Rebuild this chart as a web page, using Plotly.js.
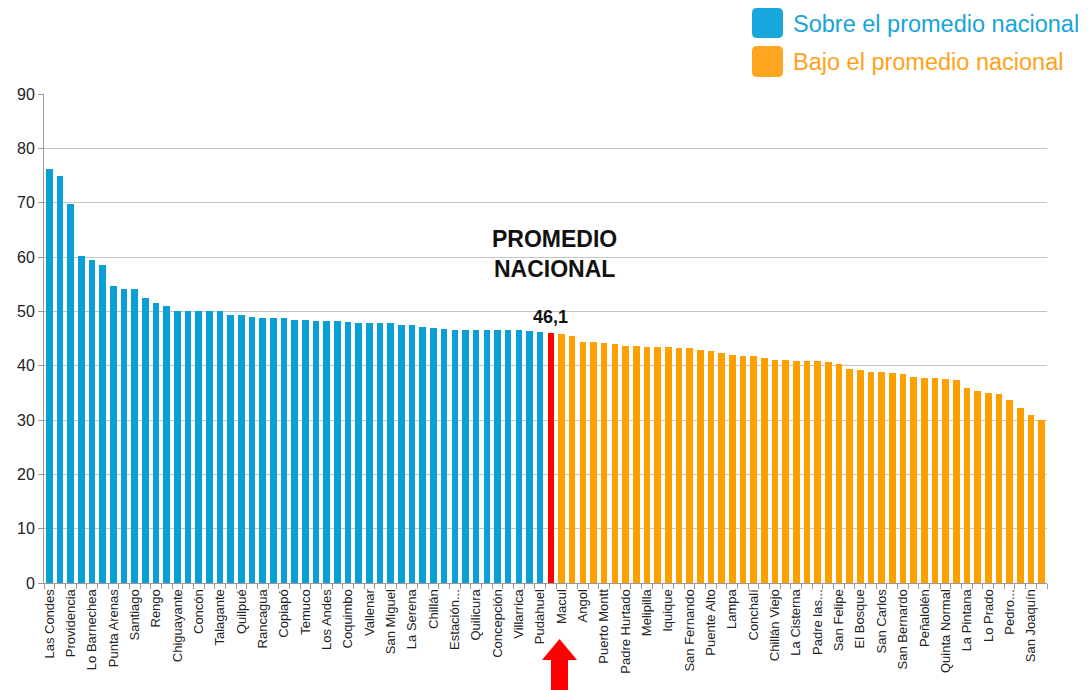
<!DOCTYPE html>
<html>
<head>
<meta charset="utf-8">
<script src="https://cdn.plot.ly/plotly-3.0.1.min.js"></script>
<style>
  body { margin: 0; background: #fff; }
  #chart { width: 1088px; height: 690px; }
</style>
</head>
<body>
<div id="chart"></div>
<script>
// one label for every second bar, like the original axis
var comunas = ['Las Condes', 'Providencia', 'Lo Barnechea', 'Punta Arenas', 'Santiago', 'Rengo',
  'Chiguayante', 'Concón', 'Talagante', 'Quilpué', 'Rancagua', 'Copiapó', 'Temuco', 'Los Andes',
  'Coquimbo', 'Vallenar', 'San Miguel', 'La Serena', 'Chillán', 'Estación...', 'Quilicura',
  'Concepción', 'Villarrica', 'Pudahuel', 'Macul', 'Angol', 'Puerto Montt', 'Padre Hurtado',
  'Melipilla', 'Iquique', 'San Fernando', 'Puente Alto', 'Lampa', 'Conchalí', 'Chillán Viejo',
  'La Cisterna', 'Padre las...', 'San Felipe', 'El Bosque', 'San Carlos', 'San Bernardo',
  'Peñalolén', 'Quinta Normal', 'La Pintana', 'Lo Prado', 'Pedro...', 'San Joaquín'];

var valores = [76.2, 74.9, 69.7, 60.2, 59.4, 58.6, 54.6, 54.1, 54.1, 52.5,
  51.5, 51.0, 50.1, 50.1, 50.1, 50.1, 50.1, 49.4, 49.4, 48.9,
  48.7, 48.7, 48.7, 48.4, 48.4, 48.2, 48.2, 48.2, 48.1, 47.9,
  47.9, 47.9, 47.9, 47.4, 47.4, 47.2, 46.9, 46.7, 46.5, 46.5,
  46.5, 46.5, 46.5, 46.5, 46.5, 46.3, 46.2, 46.1, 45.8, 45.5,
  44.4, 44.4, 44.1, 43.9, 43.7, 43.7, 43.5, 43.5, 43.5, 43.2,
  43.2, 42.9, 42.7, 42.3, 42.0, 41.8, 41.8, 41.5, 41.1, 41.0,
  40.8, 40.8, 40.8, 40.6, 40.3, 39.4, 39.2, 38.9, 38.9, 38.7,
  38.5, 38.0, 37.7, 37.7, 37.5, 37.3, 35.9, 35.4, 35.0, 34.7,
  33.7, 32.3, 30.9, 30.0];

var promedio = 46.1;
var idxPromedio = 47;

var azul = '#0aa0d6', naranjo = '#ffa000', rojo = '#ff0000';

var x = valores.map(function (v, i) { return i; });
var colores = valores.map(function (v, i) {
  if (i < idxPromedio) return azul;
  if (i === idxPromedio) return rojo;
  return naranjo;
});
var tickPos = comunas.map(function (c, i) { return i * 2; });
var bordes = [];
for (var b = 0; b <= valores.length; b++) bordes.push(b - 0.5);

// plot box in pixels, used for the decorations outside the axes
var L = 44, R = 1047, T = 94, B = 583;
function px(v) { return (v - L) / (R - L); }
function py(v) { return (B - v) / (B - T); }

function cajita(x0, y0, x1, y1, r) {
  var a = px(x0), c = px(x1), t = py(y0), d = py(y1);
  var rx = r / (R - L), ry = r / (B - T);
  return 'M' + (a + rx) + ',' + t + ' L' + (c - rx) + ',' + t +
    ' Q' + c + ',' + t + ' ' + c + ',' + (t - ry) +
    ' L' + c + ',' + (d + ry) + ' Q' + c + ',' + d + ' ' + (c - rx) + ',' + d +
    ' L' + (a + rx) + ',' + d + ' Q' + a + ',' + d + ' ' + a + ',' + (d + ry) +
    ' L' + a + ',' + (t - ry) + ' Q' + a + ',' + t + ' ' + (a + rx) + ',' + t + ' Z';
}

var flecha = 'M' + px(559.5) + ',' + py(639) +
  ' L' + px(577) + ',' + py(660) + ' L' + px(568) + ',' + py(660) +
  ' L' + px(568) + ',' + py(692) + ' L' + px(551) + ',' + py(692) +
  ' L' + px(551) + ',' + py(660) + ' L' + px(542) + ',' + py(660) + ' Z';

var data = [{
  type: 'bar',
  x: x,
  y: valores,
  width: 0.62,
  marker: { color: colores, line: { width: 0 } },
  hoverinfo: 'y'
}];

var layout = {
  width: 1088,
  height: 690,
  margin: { l: L, r: 1088 - R, t: T, b: 690 - B },
  paper_bgcolor: '#fff',
  plot_bgcolor: '#fff',
  showlegend: false,
  bargap: 0,
  font: { family: 'Liberation Sans, Arial, sans-serif', color: '#222' },
  xaxis: {
    range: [-0.5, valores.length - 0.5],
    tickmode: 'array',
    tickvals: tickPos,
    ticktext: comunas,
    tickangle: -90,
    ticks: '',
    tickfont: { size: 13, color: '#222' },
    showgrid: false,
    zeroline: false,
    showline: true,
    linecolor: '#999',
    linewidth: 1,
    minor: { tickmode: 'array', tickvals: bordes, ticks: 'outside', ticklen: 5, tickcolor: '#999', showgrid: false }
  },
  yaxis: {
    range: [0, 90],
    dtick: 10,
    ticks: 'outside',
    ticklen: 5,
    tickcolor: '#999',
    tickfont: { size: 16, color: '#222' },
    gridcolor: '#c4c4c4',
    gridwidth: 1,
    zeroline: false,
    showline: true,
    linecolor: '#999',
    linewidth: 1
  },
  annotations: [
    { xref: 'x', yref: 'paper', x: 47.3, y: py(254), yanchor: 'middle',
      text: '<b>PROMEDIO<br>NACIONAL</b>', showarrow: false,
      font: { size: 23, color: '#111' } },
    { xref: 'x', yref: 'y', x: idxPromedio, y: promedio, yshift: 4, yanchor: 'bottom',
      text: '<b>' + String(promedio).replace('.', ',') + '</b>', showarrow: false,
      font: { size: 18, color: '#111' } },
    { xref: 'paper', yref: 'paper', x: px(791), y: py(24), xanchor: 'left', yanchor: 'middle',
      text: 'Sobre el promedio nacional', showarrow: false, font: { size: 23.5, color: '#17a4d8' } },
    { xref: 'paper', yref: 'paper', x: px(791), y: py(62), xanchor: 'left', yanchor: 'middle',
      text: 'Bajo el promedio nacional', showarrow: false, font: { size: 23.5, color: '#ffa21a' } }
  ],
  shapes: [
    { type: 'path', xref: 'paper', yref: 'paper', path: cajita(752, 8, 783, 38, 5),
      fillcolor: '#16a8dc', line: { width: 0 } },
    { type: 'path', xref: 'paper', yref: 'paper', path: cajita(752, 46, 783, 77, 5),
      fillcolor: '#ffa51f', line: { width: 0 } },
    { type: 'path', xref: 'paper', yref: 'paper', path: flecha,
      fillcolor: rojo, line: { width: 0 } }
  ]
};

Plotly.newPlot('chart', data, layout, { displayModeBar: false, staticPlot: true });
</script>
</body>
</html>
